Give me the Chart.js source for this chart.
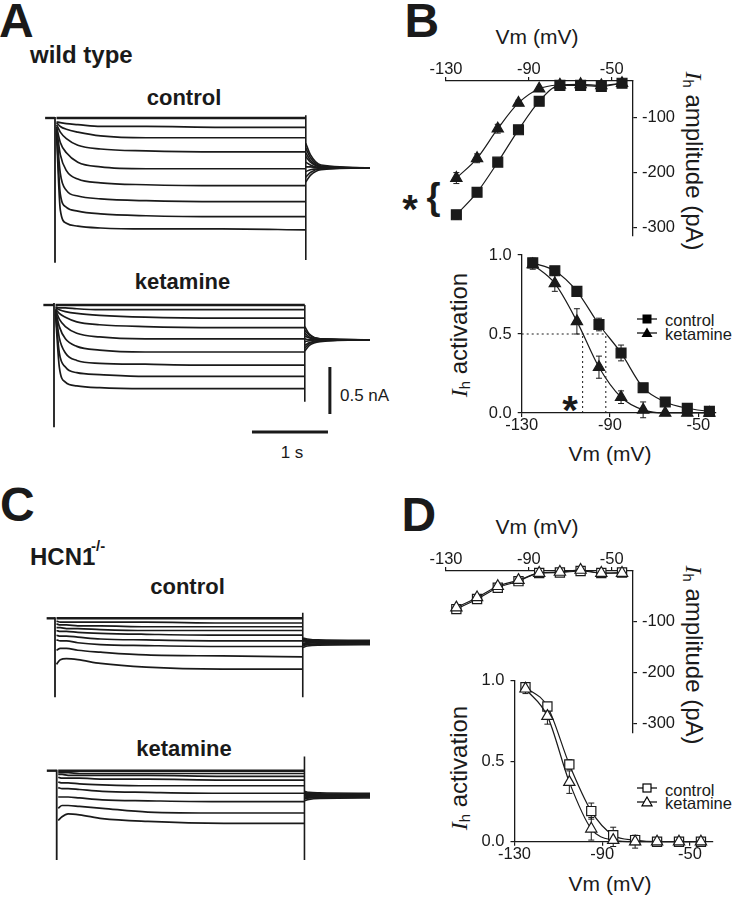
<!DOCTYPE html>
<html>
<head>
<meta charset="utf-8">
<script src="https://cdn.jsdelivr.net/npm/chart.js@4.4.1/dist/chart.umd.min.js"></script>
<style>
body { margin: 0; background: #fff; }
#fig { position: relative; width: 734px; height: 899px; overflow: hidden; font-family: 'Liberation Sans', Arial, sans-serif; color: #1a1a1a; }
canvas, svg { position: absolute; }
.t { position: absolute; white-space: nowrap; line-height: 1; }
.b { font-weight: bold; }
.c { transform: translateX(-50%); }
.rot { transform: translate(-50%, -50%) rotate(90deg); }
.rotl { transform: translate(-50%, -50%) rotate(-90deg); }
.ih i { font-family: 'Liberation Serif', serif; font-style: italic; }
.ih sub { font-size: 0.62em; vertical-align: -0.2em; }
</style>
</head>
<body>
<div id="fig">
  <div class="t b" style="font-size:48px;left:-1px;top:-3px">A</div>
  <div class="t b" style="font-size:24px;left:30px;top:42.7px">wild type</div>
  <div class="t b c" style="font-size:22px;left:184px;top:87.4px">control</div>
  <div class="t b c" style="font-size:22px;left:182.5px;top:271.4px">ketamine</div>
  <div class="t" style="font-size:17px;left:340px;top:386.6px">0.5 nA</div>
  <div class="t c" style="font-size:17px;left:292px;top:443.6px">1 s</div>

  <div class="t b" style="font-size:48px;left:0px;top:481.4px">C</div>
  <div class="t b" style="font-size:24px;left:30px;top:544.7px">HCN1</div>
  <div class="t b" style="font-size:15px;left:91px;top:538px">-/-</div>
  <div class="t b c" style="font-size:22px;left:187.5px;top:576.4px">control</div>
  <div class="t b c" style="font-size:22px;left:184px;top:738.1px">ketamine</div>

  <div class="t b" style="font-size:48px;left:404.5px;top:-2.6px">B</div>
  <div class="t c" style="font-size:21px;left:537px;top:26.2px">Vm (mV)</div>
  <div class="t ih rot" style="font-size:24px;left:693px;top:161px"><i>I</i><sub>h</sub> amplitude (pA)</div>
  <div class="t b c" style="font-size:40px;left:410px;top:189px">*</div>
  <div class="t b c" style="font-size:36px;left:433.5px;top:179.4px">{</div>
  <div class="t ih rotl" style="font-size:24px;left:460px;top:335px"><i>I</i><sub>h</sub> activation</div>
  <div class="t c" style="font-size:21px;left:610px;top:443.2px">Vm (mV)</div>
  <div class="t b c" style="font-size:40px;left:570px;top:390px">*</div>
  <div class="t" style="font-size:16.5px;left:665px;top:312px">control</div>
  <div class="t" style="font-size:16.5px;left:665px;top:325.5px">ketamine</div>
  <svg style="left:636px;top:312.3px" width="22" height="14"><line x1="1" y1="7" x2="21" y2="7" stroke="#000" stroke-width="1.2"/><rect x="6.5" y="2.5" width="9" height="9" fill="#000"/></svg>
  <svg style="left:636px;top:325.7px" width="22" height="14"><line x1="1" y1="7" x2="21" y2="7" stroke="#000" stroke-width="1.2"/><polygon points="11,1.5 16.5,11 5.5,11" fill="#000"/></svg>

  <div class="t b" style="font-size:48px;left:401.5px;top:491.4px">D</div>
  <div class="t c" style="font-size:21px;left:537px;top:516.2px">Vm (mV)</div>
  <div class="t ih rot" style="font-size:24px;left:693px;top:655px"><i>I</i><sub>h</sub> amplitude (pA)</div>
  <div class="t ih rotl" style="font-size:24px;left:460px;top:767.5px"><i>I</i><sub>h</sub> activation</div>
  <div class="t c" style="font-size:21px;left:610px;top:873.2px">Vm (mV)</div>
  <div class="t" style="font-size:16.5px;left:665px;top:781.5px">control</div>
  <div class="t" style="font-size:16.5px;left:665px;top:794.8px">ketamine</div>
  <svg style="left:636px;top:781.3px" width="22" height="14"><line x1="1" y1="7" x2="21" y2="7" stroke="#000" stroke-width="1.2"/><rect x="7" y="3" width="8" height="8" fill="#fff" stroke="#000" stroke-width="1.2"/></svg>
  <svg style="left:636px;top:794.7px" width="22" height="14"><line x1="1" y1="7" x2="21" y2="7" stroke="#000" stroke-width="1.2"/><polygon points="11,2 16,10.8 6,10.8" fill="#fff" stroke="#000" stroke-width="1.2"/></svg>
</div>

<script>
// voltage steps (mV) for the I-V and activation plots
const vm = [-125, -115, -105, -95, -85, -75, -65, -55, -45];
const vmTicks = [-130, -90, -50];
const ampTicks = [-100, -200, -300];
const actTicks = [0, 0.5, 1];

// B: wild type
const ampWtCtrl = [-277, -236, -181, -122, -70, -41, -41, -43, -37];
const ampWtCtrlErr = [8, 6, 5, 4, 3, 2, 2, 2, 2];
const ampWtKet = [-210, -174, -120, -73, -47, -40, -39, -41, -37];
const ampWtKetErr = [10, 8, 8, 5, 3, 2, 2, 2, 2];
const actWtCtrl = [0.95, 0.90, 0.77, 0.56, 0.38, 0.16, 0.07, 0.03, 0.01];
const actWtCtrlErr = [0.03, 0.02, 0.02, 0.04, 0.05, 0.02, 0.02, 0.01, 0.01];
const actWtKet = [0.94, 0.82, 0.58, 0.29, 0.10, 0.02, 0.0, 0.0, 0.0];
const actWtKetErr = [0.03, 0.05, 0.08, 0.07, 0.04, 0.05, 0.01, 0.01, 0.01];
const halfActWt = [-102.4, -91.9]; // V1/2 ketamine, control

// D: HCN1-/-
const ampKoCtrl = [-75, -55, -33, -20, -4, -3, 0, -4, -3];
const ampKoKet = [-72, -52, -30, -18, -4, -2, 2, -4, -4];
const actKoCtrl = [0.96, 0.84, 0.48, 0.19, 0.04, 0.01, 0.0, 0.0, 0.0];
const actKoCtrlErr = [0.02, 0.02, 0.03, 0.05, 0.05, 0.02, 0.01, 0.01, 0.01];
const actKoKet = [0.95, 0.78, 0.37, 0.08, 0.01, 0.0, 0.0, 0.0, 0.0];
const actKoKetErr = [0.03, 0.05, 0.07, 0.07, 0.04, 0.04, 0.01, 0.01, 0.01];

// current traces (nA, relative to holding) sampled at these times (s)
const tStep = [0.02, 0.07, 0.15, 0.3, 0.6, 1.2, 2.2, 3.3];
const tTail = [3.3, 3.36, 3.5, 4.2];
const tStepC = [0.02, 0.07, 0.15, 0.3, 0.6, 1.2, 2.2, 3.26];
const tTailC = [3.26, 3.32, 3.46, 4.2];

const wtCtrlSteps = [
  [0, 0, 0, 0, 0, 0, 0, 0],
  [-0.04, -0.05, -0.06, -0.07, -0.09, -0.09, -0.10, -0.10],
  [-0.05, -0.09, -0.12, -0.15, -0.19, -0.21, -0.21, -0.21],
  [-0.07, -0.15, -0.22, -0.29, -0.33, -0.35, -0.36, -0.36],
  [-0.09, -0.26, -0.37, -0.47, -0.52, -0.54, -0.54, -0.54],
  [-0.11, -0.39, -0.56, -0.65, -0.69, -0.71, -0.72, -0.72],
  [-0.13, -0.59, -0.77, -0.83, -0.86, -0.88, -0.89, -0.89],
  [-0.14, -0.81, -0.95, -0.99, -1.02, -1.04, -1.05, -1.05],
  [-0.16, -0.98, -1.12, -1.15, -1.17, -1.18, -1.18, -1.19]
];
const wtCtrlTails = [
  [-0.27, -0.39, -0.50, -0.53],
  [-0.32, -0.42, -0.51, -0.53],
  [-0.37, -0.45, -0.52, -0.53],
  [-0.41, -0.47, -0.52, -0.53],
  [-0.47, -0.50, -0.53, -0.53],
  [-0.52, -0.52, -0.53, -0.53],
  [-0.57, -0.55, -0.54, -0.53],
  [-0.63, -0.58, -0.54, -0.53],
  [-0.68, -0.61, -0.55, -0.53]
];
const wtCtrlSpikes = [[0.01, -1.54], [0.03, -1.51]];

const wtKetSteps = [
  [0, 0, 0, 0, 0, 0, 0, 0],
  [-0.02, -0.03, -0.03, -0.04, -0.05, -0.05, -0.05, -0.05],
  [-0.03, -0.05, -0.07, -0.09, -0.11, -0.13, -0.14, -0.14],
  [-0.04, -0.09, -0.13, -0.18, -0.21, -0.23, -0.24, -0.24],
  [-0.05, -0.15, -0.23, -0.30, -0.34, -0.36, -0.36, -0.36],
  [-0.06, -0.23, -0.36, -0.44, -0.48, -0.50, -0.50, -0.50],
  [-0.07, -0.35, -0.51, -0.59, -0.62, -0.63, -0.64, -0.64],
  [-0.09, -0.51, -0.66, -0.72, -0.74, -0.76, -0.76, -0.76],
  [-0.10, -0.66, -0.82, -0.86, -0.88, -0.89, -0.89, -0.89]
];
const wtKetTails = [
  [-0.23, -0.31, -0.36, -0.37],
  [-0.27, -0.32, -0.36, -0.37],
  [-0.30, -0.34, -0.36, -0.37],
  [-0.33, -0.35, -0.37, -0.37],
  [-0.36, -0.37, -0.37, -0.37],
  [-0.39, -0.38, -0.37, -0.37],
  [-0.43, -0.40, -0.38, -0.37],
  [-0.46, -0.41, -0.38, -0.37],
  [-0.49, -0.43, -0.39, -0.37]
];
const wtKetSpikes = [[0.02, -1.30], [0.0, -1.03]];

const koCtrlSteps = [
  [0, 0, 0, 0, 0, 0, 0, 0],
  [-0.03, -0.04, -0.04, -0.04, -0.04, -0.04, -0.05, -0.05],
  [-0.06, -0.07, -0.07, -0.08, -0.08, -0.09, -0.09, -0.09],
  [-0.10, -0.10, -0.11, -0.11, -0.12, -0.13, -0.13, -0.13],
  [-0.13, -0.14, -0.14, -0.15, -0.16, -0.17, -0.18, -0.18],
  [-0.18, -0.19, -0.19, -0.20, -0.22, -0.23, -0.24, -0.24],
  [-0.23, -0.24, -0.24, -0.26, -0.28, -0.29, -0.30, -0.30],
  [-0.34, -0.32, -0.32, -0.34, -0.36, -0.39, -0.40, -0.41],
  [-0.49, -0.44, -0.43, -0.44, -0.48, -0.52, -0.54, -0.54]
];
const koCtrlTails = [
  [-0.21, -0.22, -0.23, -0.235],
  [-0.22, -0.23, -0.24, -0.24],
  [-0.23, -0.24, -0.245, -0.245],
  [-0.24, -0.245, -0.25, -0.25],
  [-0.25, -0.255, -0.255, -0.255],
  [-0.27, -0.265, -0.26, -0.26],
  [-0.28, -0.275, -0.27, -0.265],
  [-0.29, -0.28, -0.275, -0.27],
  [-0.31, -0.295, -0.285, -0.28]
];
const koCtrlSpikes = [[0.01, -0.84], [0.06, -0.84]];

const koKetSteps = [
  [0, 0, 0, 0, 0, 0, 0, 0],
  [-0.02, -0.02, -0.02, -0.03, -0.03, -0.03, -0.03, -0.03],
  [-0.04, -0.04, -0.05, -0.05, -0.05, -0.05, -0.06, -0.06],
  [-0.07, -0.08, -0.08, -0.08, -0.09, -0.09, -0.10, -0.10],
  [-0.12, -0.13, -0.13, -0.14, -0.15, -0.16, -0.16, -0.16],
  [-0.18, -0.19, -0.19, -0.20, -0.22, -0.23, -0.24, -0.24],
  [-0.28, -0.28, -0.28, -0.29, -0.31, -0.32, -0.33, -0.33],
  [-0.40, -0.37, -0.37, -0.38, -0.40, -0.44, -0.45, -0.45],
  [-0.53, -0.49, -0.46, -0.47, -0.51, -0.54, -0.56, -0.56]
];
const koKetTails = [
  [-0.22, -0.23, -0.235, -0.24],
  [-0.23, -0.24, -0.245, -0.25],
  [-0.24, -0.25, -0.25, -0.255],
  [-0.25, -0.255, -0.26, -0.26],
  [-0.26, -0.265, -0.265, -0.265],
  [-0.28, -0.275, -0.27, -0.27],
  [-0.29, -0.285, -0.28, -0.275],
  [-0.30, -0.29, -0.285, -0.28],
  [-0.32, -0.305, -0.295, -0.29]
];
const koKetSpikes = [[0.01, -0.95], [0.15, -0.95]];

const scaleBarNA = 0.5;
const scaleBarS = 1;

// drawing scale of the traces
const PX_S = 76, PX_NA = 94;
const ink = '#1a1a1a';
const fig = document.getElementById('fig');

function mk(left, top, w, h) {
  const c = document.createElement('canvas');
  c.width = w; c.height = h;
  c.style.left = left + 'px'; c.style.top = top + 'px';
  c.style.width = w + 'px'; c.style.height = h + 'px';
  fig.appendChild(c);
  return c;
}

function seg(pts, w) {
  return { data: pts, showLine: true, pointRadius: 0, borderColor: ink, borderWidth: w || 1.6, tension: 0 };
}
function curve(pts, w) {
  return { data: pts, showLine: true, pointRadius: 0, borderColor: ink, borderWidth: w || 1.6, cubicInterpolationMode: 'monotone' };
}

function traces(box, origin, steps, tails, spikes, holdStart, tS, tT, extra) {
  const [left, top, w, h] = box;
  const c = mk(left, top, w, h);
  const stepEnd = tS[tS.length - 1];
  const ds = [];
  ds.push(seg([{ x: holdStart, y: 0 }, { x: 0, y: 0 }], 2.4));
  ds.push(seg([{ x: 0, y: spikes[0][0] }, { x: 0, y: spikes[0][1] }], 1.8));
  ds.push(seg([{ x: stepEnd, y: spikes[1][0] }, { x: stepEnd, y: spikes[1][1] }], 1.6));
  steps.forEach((tr, k) => ds.push(curve(tS.map((t, i) => ({ x: t, y: tr[i] })), k === 0 ? 2.4 : 1.7)));
  tails.forEach(tr => ds.push(curve(tT.map((t, i) => ({ x: t, y: tr[i] })), 1.6)));
  (extra || []).forEach(d => ds.push(d));
  new Chart(c, {
    type: 'scatter',
    data: { datasets: ds },
    options: {
      animation: false, responsive: false, devicePixelRatio: 1,
      layout: { padding: 0 },
      plugins: { legend: { display: false }, tooltip: { enabled: false } },
      scales: {
        x: { display: false, min: (left - origin[0]) / PX_S, max: (left + w - origin[0]) / PX_S },
        y: { display: false, min: (origin[1] - top - h) / PX_NA, max: (origin[1] - top) / PX_NA }
      }
    }
  });
}

// panel A
traces([40, 105, 330, 165], [55, 118], wtCtrlSteps, wtCtrlTails, wtCtrlSpikes, -0.13, tStep, tTail);
traces([40, 290, 330, 150], [54, 305], wtKetSteps, wtKetTails, wtKetSpikes, -0.14, tStep, tTail, [
  seg([{ x: 3.63, y: -0.66 }, { x: 3.63, y: -0.66 - scaleBarNA }], 3),
  seg([{ x: 3.605 - scaleBarS, y: -1.35 }, { x: 3.605, y: -1.35 }], 3)
]);
// panel C
traces([40, 605, 330, 100], [55, 618.3], koCtrlSteps, koCtrlTails, koCtrlSpikes, -0.11, tStepC, tTailC);
traces([40, 750, 330, 120], [56.7, 770.7], koKetSteps, koKetTails, koKetSpikes, -0.13, tStepC, tTailC);

// error bars drawn under the markers
const errorBars = {
  id: 'errorBars',
  beforeDatasetsDraw(chart) {
    const { ctx } = chart;
    const x = chart.scales.x, y = chart.scales.y;
    chart.data.datasets.forEach(ds => {
      if (!ds.errors) return;
      ctx.save();
      ctx.strokeStyle = ink; ctx.lineWidth = 1;
      ds.data.forEach((p, j) => {
        const e = ds.errors[j];
        if (!e) return;
        const px = x.getPixelForValue(p.x);
        const hi = y.getPixelForValue(p.y + e), lo = y.getPixelForValue(p.y - e);
        ctx.beginPath();
        ctx.moveTo(px, hi); ctx.lineTo(px, lo);
        ctx.moveTo(px - 3, hi); ctx.lineTo(px + 3, hi);
        ctx.moveTo(px - 3, lo); ctx.lineTo(px + 3, lo);
        ctx.stroke();
      });
      ctx.restore();
    });
  }
};

function series(ys, errs, style, r, filled) {
  return {
    data: vm.map((v, i) => ({ x: v, y: ys[i] })), errors: errs,
    showLine: true, borderColor: ink, borderWidth: 1.2, cubicInterpolationMode: 'monotone',
    pointStyle: style, pointRadius: r, pointBorderWidth: 1.2,
    pointBackgroundColor: filled ? ink : '#fff', pointBorderColor: ink, clip: false
  };
}

const axisGrid = { display: true, drawOnChartArea: false, drawTicks: true, tickLength: 4, color: ink, lineWidth: 1.2 };
const axisBorder = { display: true, color: ink, width: 1.3 };

function plot(box, o) {
  const c = mk(...box);
  new Chart(c, {
    type: 'scatter',
    data: { datasets: o.datasets },
    options: {
      animation: false, responsive: false, devicePixelRatio: 1,
      layout: { padding: o.padding },
      plugins: { legend: { display: false }, tooltip: { enabled: false } },
      scales: {
        x: {
          type: 'linear', position: o.xPos, min: o.xMin, max: o.xMax,
          afterBuildTicks: s => { s.ticks = vmTicks.map(v => ({ value: v })); },
          afterFit: s => { s.height = o.xSize; },
          ticks: { autoSkip: false, maxRotation: 0, padding: o.xPad, color: ink, font: { size: 16.5 }, callback: v => String(v) },
          grid: axisGrid, border: axisBorder
        },
        y: {
          type: 'linear', position: o.yPos, min: o.yMin, max: o.yMax,
          afterBuildTicks: s => { s.ticks = o.yTicks.map(v => ({ value: v })); },
          afterFit: s => { s.width = o.ySize; },
          ticks: { autoSkip: false, padding: o.yPad, color: ink, font: { size: 16.5 }, callback: o.yFmt },
          grid: axisGrid, border: axisBorder
        }
      }
    },
    plugins: [errorBars]
  });
}

const dotted = pts => ({ data: pts, showLine: true, pointRadius: 0, borderColor: ink, borderWidth: 1, borderDash: [2, 3], tension: 0 });

// B top: Ih amplitude
plot([380, 20, 354, 230], {
  padding: { left: 66, bottom: 13 }, xPos: 'top', xSize: 61, xPad: -2,
  yPos: 'right', ySize: 101, yPad: 5,
  xMin: -130, xMax: -39.7, yMin: -314, yMax: -33, yTicks: ampTicks, yFmt: v => String(v),
  datasets: [
    series(ampWtCtrl, ampWtCtrlErr, 'rect', 7, true),
    series(ampWtKet, ampWtKetErr, 'triangle', 6.5, true)
  ]
});
// B bottom: activation
plot([440, 230, 294, 240], {
  padding: { top: 25, right: 18 }, xPos: 'bottom', xSize: 57, xPad: -1,
  yPos: 'left', ySize: 81.7, yPad: 6,
  xMin: -130, xMax: -42, yMin: 0, yMax: 1, yTicks: actTicks, yFmt: v => v.toFixed(1),
  datasets: [
    series(actWtCtrl, actWtCtrlErr, 'rect', 7, true),
    series(actWtKet, actWtKetErr, 'triangle', 6.5, true),
    dotted([{ x: -130, y: 0.5 }, { x: halfActWt[1], y: 0.5 }]),
    dotted([{ x: halfActWt[0], y: 0 }, { x: halfActWt[0], y: 0.5 }]),
    dotted([{ x: halfActWt[1], y: 0 }, { x: halfActWt[1], y: 0.5 }])
  ]
});
// D top: Ih amplitude
plot([380, 510, 354, 237], {
  padding: { left: 66, bottom: 10 }, xPos: 'top', xSize: 61, xPad: -2,
  yPos: 'right', ySize: 101, yPad: 5,
  xMin: -130, xMax: -39.7, yMin: -317, yMax: 0, yTicks: ampTicks, yFmt: v => String(v),
  datasets: [
    series(ampKoKet, null, 'triangle', 6.5, false),
    series(ampKoCtrl, null, 'rect', 6.5, false)
  ]
});
// D bottom: activation
plot([433, 660, 301, 239], {
  padding: { top: 20.7, right: 21 }, xPos: 'bottom', xSize: 57.3, xPad: -1,
  yPos: 'left', ySize: 81.5, yPad: 6,
  xMin: -130, xMax: -39.5, yMin: 0, yMax: 1, yTicks: actTicks, yFmt: v => v.toFixed(1),
  datasets: [
    series(actKoKet, actKoKetErr, 'triangle', 6.5, false),
    series(actKoCtrl, actKoCtrlErr, 'rect', 6.5, false)
  ]
});
</script>
</body>
</html>
